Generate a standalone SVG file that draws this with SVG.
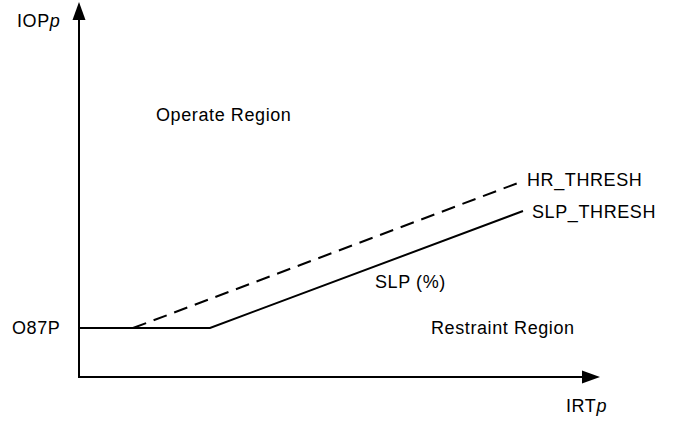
<svg xmlns="http://www.w3.org/2000/svg" width="684" height="422" viewBox="0 0 684 422">
<style>
text{font-family:"Liberation Sans",Arial,sans-serif;font-size:18px;letter-spacing:0.6px;fill:#000}
.ln{stroke:#000;stroke-width:2;fill:none}
.dash{stroke-dasharray:14,8}
</style>
<rect width="684" height="422" fill="#fff"/>
<g id="axes">
<polyline class="ln" points="79,19 79,377 583,377"/>
<polygon points="79,2 72.5,20 85.5,20" fill="#000"/>
<polygon points="600,377 582,370.5 582,383.5" fill="#000"/>
</g>
<g id="connectors">
<polyline class="ln" points="79,328 210,328 523,211"/>
<line class="ln dash" x1="133" y1="328" x2="518" y2="183"/>
</g>
<g id="labels">
<text x="17" y="27">IOP<tspan font-style="italic">p</tspan></text>
<text x="566" y="412">IRT<tspan font-style="italic">p</tspan></text>
<text x="12" y="334">O87P</text>
<text x="156" y="121">Operate Region</text>
<text x="431" y="334">Restraint Region</text>
<text x="375" y="288">SLP (%)</text>
<text x="527" y="186">HR_THRESH</text>
<text x="532" y="218">SLP_THRESH</text>
</g>
</svg>
